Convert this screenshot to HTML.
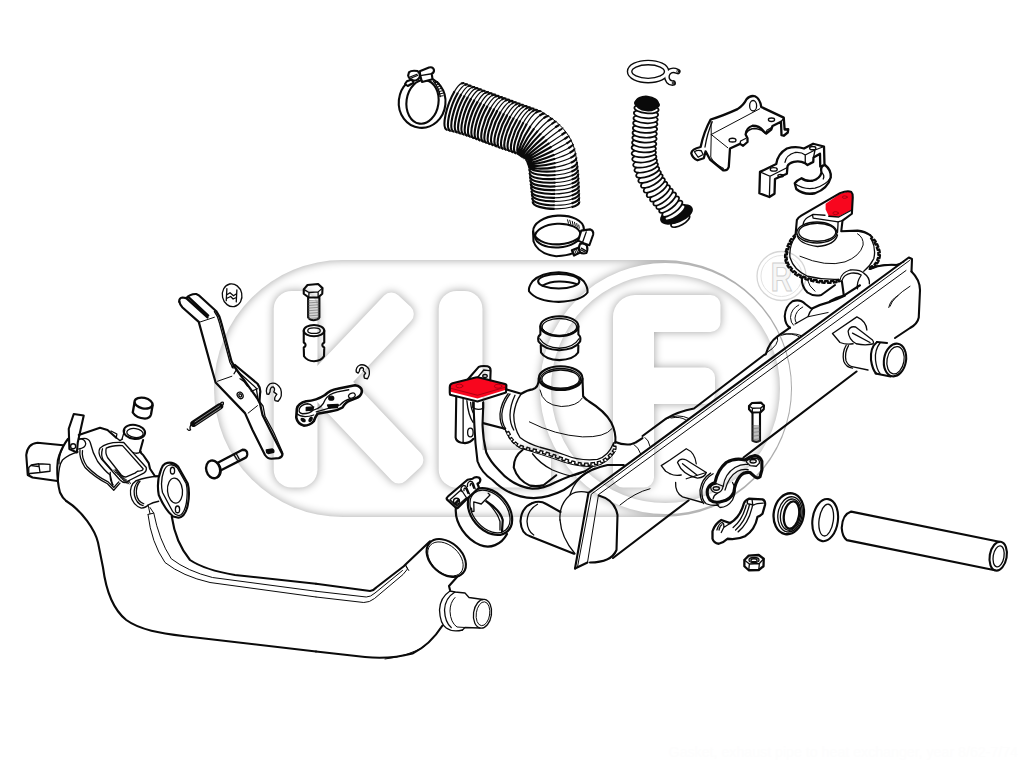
<!DOCTYPE html>
<html lang="en"><head><meta charset="utf-8"><title>Gasket, exhaust pipe to heat exchanger</title>
<style>
html,body{margin:0;padding:0;background:#fff;width:1024px;height:768px;overflow:hidden}
svg{display:block}
.k{fill:none;stroke:#0a0a0a;stroke-linecap:round;stroke-linejoin:round;vector-effect:non-scaling-stroke}
.k *{vector-effect:non-scaling-stroke}
.t{stroke-width:2.1}
.m{stroke-width:1.3}
.n{stroke-width:1}
.h{stroke-width:.65}
.w{fill:#fff}
.b{fill:#0a0a0a}
.r{fill:#f8061e}
text{font-family:"Liberation Sans",Arial,sans-serif}
</style></head><body>
<svg width="1024" height="768" viewBox="0 0 1024 768">
<rect width="1024" height="768" fill="#fff"/>
<!-- watermark -->
<defs>
 <mask id="wmm" maskUnits="userSpaceOnUse" x="180" y="230" width="660" height="320">
  <rect x="180" y="230" width="660" height="320" fill="#000"/>
  <path d="M342.5,260 H663.5 A128.5,128.5 0 0 1 663.5,517 H342.5 A128.5,128.5 0 0 1 342.5,260 Z" fill="#fff"/>
  <g fill="#000" stroke="#000" stroke-linejoin="round">
   <path d="M291.7,309.0 L291.7,469.5 L299.5,469.5 L299.5,309.0Z" stroke-width="36"/>
   <path d="M456.7,309.0 L456.7,469.5 L464.5,469.5 L464.5,309.0Z" stroke-width="36"/>
   <path d="M331.1,390.6 L403.8,314.1 L391.4,302.4 L318.7,378.9Z M321.6,392.1 L398.9,473.6 L413.4,459.9 L336.1,378.4Z M455.0,477.4 L541.0,477.4 L541.0,459.9 L455.0,459.9Z" stroke-width="20"/>
   <path d="M613,477.5 V317 A22,22 0 0 1 635,295 H710.5 A10,10 0 0 1 720.5,305 V322 A10,10 0 0 1 710.5,332 H654 V367.5 H705 A10,10 0 0 1 715,377.5 V394 A10,10 0 0 1 705,404 H654 V477.5 A10,10 0 0 1 644,487.5 H623 A10,10 0 0 1 613,477.5 Z" stroke="none"/>
   <circle cx="665.5" cy="388.5" r="120" fill="none" stroke-width="11"/>
  </g>
 </mask>
 <filter id="wmf" filterUnits="userSpaceOnUse" x="180" y="230" width="660" height="320" color-interpolation-filters="sRGB">
  <feFlood flood-color="#000" flood-opacity="1"/>
  <feComposite in2="SourceAlpha" operator="out"/>
  <feGaussianBlur stdDeviation="5"/>
  <feComponentTransfer><feFuncA type="linear" slope=".37"/></feComponentTransfer>
  <feComposite in2="SourceAlpha" operator="in"/>
 </filter>
</defs>
<g filter="url(#wmf)"><g mask="url(#wmm)"><rect x="180" y="230" width="660" height="320" fill="#fff"/></g></g>
<g fill="none" stroke="#d6d6d6">
 <circle cx="781.5" cy="276" r="24.5" stroke-width="1.3"/>
 <circle cx="781.5" cy="276" r="20.5" stroke-width="1" stroke="#e2e2e2"/>
</g>
<text transform="translate(781.5,290.5) scale(.74,1)" x="0" y="0" text-anchor="middle" font-size="40" font-weight="bold" fill="#f6f6f6" stroke="#cfcfcf" stroke-width="1.1">R</text>

<!-- left exhaust pipe : head (8x view, origin 20,405) -->
<g class="k" transform="translate(20,405) scale(.125)">
 <g class="t">
  <path d="M345,322 L140,302 Q60,310 50,400 L62,560 L100,580 L300,608"/>
  <path d="M385,270 Q345,320 315,400 Q298,440 298,500 Q296,610 320,700 Q340,745 370,768"/>
  <path d="M470,240 L640,182 L700,200 L770,262"/>
  <path d="M430,72 L510,84 L462,300 L455,380 L395,352 L390,190 Z"/>
  <ellipse cx="915" cy="215" rx="86" ry="56" transform="rotate(8 915 215)"/>
  <path d="M985,280 L960,370 Q970,390 985,400 L1030,465 L1040,510 L1080,570 L1110,570"/>
  <path d="M1160,470 Q1215,445 1265,492 L1342,628 Q1362,700 1342,802 Q1322,895 1268,902 L1225,892 Q1160,840 1110,720 Q1090,610 1130,512 Q1140,480 1160,470 Z"/>
 </g>
 <g class="m">
  <circle cx="425" cy="330" r="20"/>
  <path d="M468,272 Q520,268 526,310 Q522,345 470,352"/>
  <path d="M70,500 L90,480 L150,470 L240,475 L240,530 L160,540 L80,548 L70,560 Z M150,470 L160,540 M90,485 L150,492"/>
  <path d="M340,345 Q312,400 312,470"/>
  <path d="M465,375 Q390,395 340,440 Q310,480 306,600"/>
  <ellipse cx="920" cy="224" rx="66" ry="36" transform="rotate(8 920 224)"/>
  <path d="M838,200 L815,275 M905,380 Q940,395 968,372"/>
  <path d="M728,208 L775,232 L770,262 L800,285 L820,272"/>
  <path d="M640,345 Q700,290 830,300 L1010,500 Q1015,530 990,545 L880,600 Q840,640 800,600 L650,430 Q620,380 640,345 Z"/>
  <path d="M690,345 Q740,320 820,325 L985,510 Q985,528 940,530 L920,545 L850,575 Q830,580 810,560 L700,420 Q680,380 690,345 Z"/>
  <path d="M660,350 Q645,400 665,440 L735,522"/>
  <path d="M470,275 Q545,250 562,300 Q580,380 620,450 Q680,530 722,560 L740,640"/>
  <path d="M480,360 Q470,420 520,500 Q600,580 700,630 L750,682 L800,625"/>
  <path d="M500,365 Q490,420 535,490 Q610,570 705,615 L750,660 L790,615"/>
  <path d="M722,540 Q715,600 745,640"/>
  <path d="M930,605 Q1010,575 1105,570"/>
  <path d="M930,605 Q875,640 885,720 Q900,800 970,825 Q1010,820 1025,800 Q1060,780 1110,770"/>
  <path d="M950,605 Q905,650 915,720 Q930,790 985,805"/>
  <path d="M960,610 Q925,650 932,715 Q940,770 990,790"/>
  <path d="M1195,480 Q1230,470 1260,505 L1330,630 Q1345,690 1330,790 Q1310,880 1270,885 Q1240,880 1220,850 L1140,700 Q1120,610 1150,530 Q1165,490 1195,480 Z"/>
  <ellipse cx="1240" cy="685" rx="60" ry="100" transform="rotate(-5 1240 685)"/>
  <ellipse cx="1220" cy="525" rx="17" ry="27"/><ellipse cx="1260" cy="835" rx="17" ry="27"/>
 </g>
 <g class="n">
  <path d="M748,520 L770,548 M760,514 L784,560 M772,522 L796,572 M784,534 L808,586 M796,548 L820,598 M808,560 L832,610 M822,574 L846,622 M838,588 L858,630 M852,598 L872,632 M868,604 L884,628"/>
  <path d="M1025,800 L1040,870 M1040,820 L1070,865 L1025,875"/>
 </g>
</g>
<!-- left exhaust pipe : middle (4x view, origin 60,480) -->
<g class="k" transform="translate(60,480) scale(.25)">
 <path class="t" d="M25,84 C90,125 140,200 152,250 L172,350 C185,450 215,520 265,560 C320,600 400,612 500,625 L1024,686"/>
 <path class="t" d="M447,146 Q462,250 520,320 Q580,360 700,380 L1024,415"/>
 <path class="n" d="M352,138 Q365,250 420,330 Q490,385 600,410 L1024,468"/>
 <path class="n" d="M375,132 Q396,240 445,315 Q510,365 610,390 L1024,445"/>
</g>
<!-- left exhaust pipe : right end (4x view, origin 290,480) -->
<g class="k" transform="translate(290,480) scale(.25)">
 <path class="t" d="M104,415 L320,444 Q335,442 345,430 L455,345 L462,338 L560,245"/>
 <path class="n" d="M104,445 L305,468 Q322,468 340,452 L450,362"/>
 <path class="n" d="M104,468 L295,490 Q318,490 338,474 L452,378 L470,356 L462,340 L475,362"/>
 <ellipse class="t" cx="625" cy="312" rx="90" ry="62" transform="rotate(42 625 312)"/>
 <ellipse class="n" cx="622" cy="316" rx="82" ry="55" transform="rotate(42 622 316)"/>
 <path class="t" d="M668,388 L636,424 L640,440"/>
 <path class="t" d="M104,686 L300,708 Q400,718 490,694 Q560,660 610,582"/>
 <path class="n" d="M380,716 Q470,706 540,664 Q580,630 604,590"/>
 <path class="m" d="M640,444 Q600,470 598,520 Q600,575 625,592 Q650,610 690,600"/>
 <path class="m" d="M660,448 Q620,472 618,520 Q620,570 645,590"/>
 <path class="m" d="M640,444 L660,448 L700,452 L716,470 L772,478"/>
 <path class="m" d="M690,600 L700,590 L760,592"/>
 <path class="n" d="M660,470 Q640,490 640,525 Q642,570 668,588 L700,590"/>
 <ellipse class="m" cx="770" cy="535" rx="36" ry="58" transform="rotate(8 770 535)"/>
 <ellipse class="n" cx="772" cy="535" rx="27" ry="48" transform="rotate(8 772 535)"/>
</g>

<!-- centre elbow with red gasket (8x view, origin 440,355) -->
<g class="k" transform="translate(440,355) scale(.125)">
 <path class="r" stroke="none" d="M80,240 Q80,232 100,226 L285,180 Q300,177 320,182 L520,232 Q532,236 530,250 L528,277 L300,347 L85,294 Q75,285 78,260 Z"/>
 <path d="M85,266 L300,322 L528,256" style="stroke:#9a0010;stroke-width:.8"/>
 <ellipse cx="155" cy="248" rx="28" ry="15" style="stroke:#9a0010;stroke-width:.8"/>
 <ellipse cx="465" cy="250" rx="30" ry="16" style="stroke:#9a0010;stroke-width:.8"/>
 <g class="t">
  <path d="M78,300 L78,258 Q78,232 100,226 L285,180 Q300,176 320,182 L520,232 Q534,236 531,252 L528,300 L300,372 L80,318 Z"/>
  <path d="M225,192 L310,95 Q330,85 380,90 Q405,95 405,125 L402,202"/>
  <path d="M130,335 L125,660 Q130,690 165,700 L200,705 Q245,700 268,670"/>
  <path d="M270,380 L270,440 L275,560 Q280,700 300,850 Q330,940 420,1000 Q560,1140 750,1145 Q880,1138 990,1080 Q1070,1030 1120,980 Q1200,910 1340,880 L1470,880"/>
  <path d="M345,380 L345,430 L340,560 Q345,680 370,780 Q400,850 470,920 Q580,1050 740,1070 Q830,1070 920,1020 Q1050,960 1160,930 L1220,890"/>
  <path d="M345,545 L520,590"/>
  <path d="M530,275 L650,310 Q700,280 740,275 Q790,262 790,190"/>
  <ellipse cx="965" cy="185" rx="175" ry="95"/>
  <path d="M1140,190 L1145,330 Q1160,350 1190,370 Q1320,450 1370,540 Q1410,620 1403,700"/>
  <path d="M660,760 Q590,810 590,900 Q620,1000 720,1045 Q780,1055 830,1040 L930,962"/>
  <path d="M1403,696 Q1460,722 1525,715 L1565,700 L1620,665"/>
 </g>
 <g class="m">
  <path d="M300,180 L350,120 L395,125"/>
  <ellipse cx="360" cy="168" rx="18" ry="12"/>
  <path d="M185,350 L185,695"/>
  <path d="M215,365 Q225,480 265,540"/>
  <path d="M245,380 Q250,440 270,470"/>
  <ellipse cx="243" cy="620" rx="22" ry="35"/>
  <path d="M262,375 L262,420 Q300,448 348,425 L348,375"/>
  <ellipse cx="965" cy="190" rx="160" ry="82"/>
  <ellipse cx="965" cy="193" rx="150" ry="73"/>
  <path d="M650,310 Q600,380 590,480 Q590,580 640,660 Q700,708 800,738 Q900,762 1000,800 Q1120,850 1260,835 Q1345,810 1385,712"/>
  <path d="M545,310 Q490,380 480,470 Q478,550 512,592"/>
  <path d="M560,312 Q505,385 495,470 Q493,545 525,590"/>
  <path d="M600,322 Q562,400 560,480 Q560,550 590,600"/>
  <path d="M740,790 Q800,870 900,920 Q1000,960 1050,968 Q1110,960 1160,930"/>
  <path d="M520,595 L521,597 L523,600 L525,603 L527,607 L529,611 L531,615 L534,619 L549,611 L552,615 L554,619 L557,624 L559,628 L561,632 L563,636 L547,644 L548,647 L550,651 L551,654 L552,658 L554,661 L555,665 L557,669 L573,660 L575,663 L576,665 L579,669 L581,671 L583,673 L585,676 L588,679 L574,691 L577,694 L580,697 L583,700 L586,703 L589,706 L592,709 L604,696 L607,698 L610,701 L613,703 L616,706 L620,708 L623,710 L613,725 L616,728 L620,730 L623,732 L627,734 L630,735 L633,737 L637,738 L644,722 L647,723 L650,724 L654,725 L657,727 L661,728 L665,729 L668,730 L663,747 L667,749 L671,750 L675,751 L679,752 L683,753 L687,754 L691,756 L696,738 L701,739 L705,741 L708,742 L712,743 L716,744 L719,745 L715,762 L719,763 L723,764 L727,765 L731,766 L735,767 L739,768 L743,769 L747,751 L751,752 L755,753 L759,754 L763,755 L767,756 L771,756 L767,774 L771,775 L776,776 L780,777 L784,778 L788,779 L792,780 L796,781 L801,764 L805,765 L809,766 L812,767 L816,768 L820,769 L824,770 L819,787 L823,788 L826,789 L830,790 L834,791 L838,793 L841,794 L845,795 L850,777 L854,779 L858,780 L862,781 L865,782 L869,783 L873,784 L877,786 L872,803 L876,804 L880,805 L884,807 L888,808 L892,809 L896,811 L900,812 L906,795 L909,796 L913,797 L917,799 L921,800 L925,801 L928,803 L922,820 L926,821 L930,823 L934,824 L938,826 L942,827 L946,829 L950,830 L956,813 L960,815 L964,816 L968,818 L972,819 L976,821 L980,822 L974,839 L978,841 L982,842 L986,843 L990,845 L994,846 L998,848 L1004,831 L1007,832 L1011,833 L1015,834 L1018,836 L1022,837 L1025,838 L1030,839 L1024,856 L1029,858 L1033,859 L1037,860 L1041,862 L1045,863 L1049,864 L1055,847 L1059,848 L1062,849 L1066,850 L1070,851 L1074,852 L1078,853 L1081,854 L1077,872 L1081,873 L1085,874 L1089,874 L1093,875 L1096,876 L1100,877 L1104,878 L1107,860 L1111,861 L1115,861 L1118,862 L1122,862 L1126,863 L1130,863 L1128,881 L1132,881 L1136,882 L1140,882 L1144,882 L1149,882 L1153,883 L1157,883 L1157,865 L1161,865 L1165,865 L1169,865 L1173,865 L1177,865 L1181,865 L1185,865 L1185,883 L1189,882 L1193,882 L1197,882 L1201,882 L1205,881 L1209,881 L1207,863 L1211,863 L1215,862 L1218,862 L1222,862 L1227,861 L1231,861 L1235,860 L1238,878 L1242,877 L1246,876 L1250,875 L1254,875 L1258,874 L1262,873 L1258,855 L1262,854 L1266,853 L1269,852 L1273,851 L1276,850 L1279,849 L1283,848 L1289,865 L1293,863 L1296,862 L1300,860 L1304,858 L1308,856 L1311,854 L1315,852 L1305,837 L1309,835 L1312,832 L1315,830 L1318,828 L1321,826 L1324,823 L1335,837 L1339,834 L1342,832 L1345,829 L1348,826 L1351,823 L1354,821 L1357,818 L1345,805 L1348,802 L1351,799 L1354,796 L1357,793 L1360,790 L1363,787 L1376,800 L1379,797 L1382,793 L1385,790 L1388,787 L1390,784 L1393,780 L1379,769 L1381,766 L1383,764 L1385,761 L1386,758 L1387,756 L1388,754 L1389,751 L1406,756 L1407,752 L1408,747 L1408,743 L1408,738 L1408,733 L1408,729 L1390,730 L1390,726 L1389,722 L1389,718 L1388,714 L1388,710 L1387,707 L1387,704 L1405,702 L1405,700"/>
 </g>
 <g class="n">
  <path d="M800,280 Q820,400 970,412 Q1100,410 1138,345"/>
  <path d="M715,535 Q920,640 1140,655 Q1320,660 1375,590"/>
  <path d="M520,595 Q550,690 640,745 Q800,790 1000,860 Q1130,900 1240,890 Q1340,870 1403,770"/>
  <path d="M1550,715 Q1590,740 1605,790 M1640,660 Q1670,680 1680,730"/>
 </g>
</g>

<!-- muffler : flange plate (target coords) -->
<g class="k">
 <path class="t" d="M575,568.5 L588.5,492.8 L908.8,257.5 L912,259 L911.5,271.5"/>
 <path class="n" d="M577.5,567 L591.3,494.2 L909.5,260.5"/>
 <path class="n" d="M587.5,562.5 L598.5,494.6 L906,270.5"/>
 <path class="t" d="M575,568.5 L587.5,562.5"/>
</g>
<!-- muffler : lower-left part (4x view, origin 500,390) -->
<g class="k" transform="translate(500,390) scale(.25)">
 <g class="t">
  <path d="M395,422 Q460,440 470,500 L466,640 Q445,690 360,690"/>
  <path d="M130,452 Q85,470 82,525 Q85,575 120,585 L296,655"/>
  <path d="M130,452 Q160,440 185,456 L242,488"/>
 </g>
 <g class="m">
  <path d="M240,520 Q235,460 280,420 Q310,400 352,410"/>
  <path d="M240,520 Q245,590 300,655"/>
  <path d="M150,457 Q110,480 108,525 Q110,565 135,580"/>
  <path d="M280,420 Q300,350 380,312"/>
 </g>
 <g class="n">
  <path d="M480,460 Q540,410 600,395"/>
 </g>
</g>
<!-- muffler : rear top edge (target coords) -->
<g class="k">
 <path class="t" d="M613,558 L688.5,500.5 M743.5,457.5 L856.5,371.5"/>
 <path class="t" d="M642.5,436 L666,418.6 Q678,411.5 694,408.5 L764,355 L765.8,354.2 Q769,342.5 777.5,336.3 L790,327.6"/>
 <path class="n" d="M666,419 Q678,413 689,418.5 M671,418 Q680,416 686,420"/>
</g>
<!-- muffler : right end + upper pipe (8x view, origin 740,290) -->
<g class="k" transform="translate(740,290) scale(.125)">
 <g class="t">
  <path d="M400,302 Q362,280 358,210 Q362,130 420,90 Q480,68 522,112 L572,150 Q650,112 720,95 Q790,70 840,45"/>
 </g>
 <g class="m">
  <path d="M440,272 L545,212 Q556,172 580,150"/>
  <path d="M740,348 L935,215 Q1010,250 1015,320"/>
  <path d="M740,348 L800,420 Q850,440 905,430"/>
  <path d="M865,330 Q880,285 925,296 L1060,400 Q1076,424 1060,432 Q1000,446 930,430 Q870,400 865,330 Z M900,345 L1040,420"/>
  <path d="M850,440 Q815,500 830,570 Q850,620 900,625"/>
  <path d="M868,445 Q835,500 848,565 Q865,610 905,615 L1024,640"/>
 </g>
 <g class="n">
  <path d="M470,120 Q408,150 404,220 Q406,262 428,282"/>
  <path d="M502,136 Q446,165 440,225 Q440,250 452,264"/>
  <path d="M545,214 L705,180"/>
  <path d="M330,362 Q420,335 490,365 M345,352 Q420,345 470,372"/>
  <path d="M300,372 Q318,440 215,500"/>
 </g>
</g>
<!-- muffler : right end (4x view, origin 720,230) -->
<g class="k" transform="translate(720,230) scale(.25)">
 <g class="t">
  <path d="M766,166 Q800,200 800,240 L795,350 Q790,376 760,392 L700,432"/>
  <path d="M628,448 Q600,470 604,520 Q610,560 625,574"/>
  <path d="M628,448 L668,452"/>
  <path d="M622,574 L682,586"/>
  <ellipse cx="700" cy="520" rx="44" ry="66" transform="rotate(10 700 520)"/>
 </g>
 <g class="m">
  <path d="M596,156 Q650,134 700,140 L735,128"/>
  <ellipse cx="702" cy="521" rx="34" ry="55" transform="rotate(10 702 521)"/>
  <path d="M640,452 Q618,480 622,520 Q626,556 640,574"/>
 </g>
 <g class="n">
  <path d="M680,305 Q690,270 760,225"/>
 </g>
</g>

<!-- upper heat-exchanger outlet with red gasket (8x view, origin 770,180) -->
<g class="k" transform="translate(770,180) scale(.125)">
 <path class="r" stroke="none" d="M445,190 L560,110 L625,92 Q655,93 658,125 L655,237 L550,292 L470,287 L445,235 Z"/>
 <ellipse cx="598" cy="137" rx="20" ry="10" style="stroke:#9a0010;stroke-width:.8"/>
 <ellipse cx="525" cy="265" rx="22" ry="12" style="stroke:#9a0010;stroke-width:.8"/>
 <g class="t">
  <path d="M205,430 L215,320 Q225,300 250,285 L560,105 Q620,80 650,95 Q665,110 662,140 L655,270 L580,325 L570,410 L700,405 Q760,412 800,440"/>
  <path d="M205,435 L203,437 L201,438 L199,440 L196,443 L193,445 L190,448 L186,451 L196,461 L193,464 L190,467 L187,471 L184,474 L182,478 L170,470 L168,473 L166,476 L164,479 L162,482 L160,486 L158,490 L171,496 L169,500 L167,504 L165,507 L163,511 L161,515 L148,509 L146,513 L145,517 L143,521 L141,525 L139,529 L152,534 L151,538 L149,541 L148,545 L147,549 L146,553 L144,557 L131,553 L130,557 L128,561 L127,566 L126,570 L125,574 L139,577 L138,581 L137,585 L137,589 L136,593 L135,597 L122,595 L121,599 L121,603 L120,606 L120,610 L120,615 L120,620 L134,619 L134,623 L134,627 L135,631 L135,634 L136,638 L123,641 L123,645 L124,649 L126,652 L127,656 L128,660 L129,664 L143,659 L144,663 L145,666 L146,669 L147,672 L149,674 L151,677 L139,684 L141,688 L143,692 L147,696 L150,700 L152,702 L163,694 L165,696 L167,699 L169,702 L172,704 L174,707 L177,710 L166,719 L169,723 L172,726 L175,729 L178,732 L181,735 L184,738 L194,728 L197,731 L200,734 L203,737 L206,739 L209,742 L200,753 L203,755 L207,758 L210,760 L213,762 L217,764 L220,766 L227,754 L230,756 L234,758 L237,760 L240,761 L244,763 L247,764 L241,777 L245,779 L249,780 L253,782 L256,784 L260,785 L265,772 L269,773 L273,775 L277,776 L281,777 L285,779 L281,792 L286,794 L290,795 L293,796 L297,797 L301,798 L304,799 L308,786 L312,787 L316,788 L319,789 L323,790 L327,791 L331,792 L327,806 L332,807 L336,808 L340,809 L344,810 L348,811 L351,797 L355,798 L359,799 L363,799 L367,800 L371,801 L375,802 L372,816 L377,816 L381,817 L385,818 L388,818 L392,819 L396,819 L398,806 L402,806 L406,807 L410,807 L414,807 L418,808 L417,822 L421,822 L426,822 L430,823 L434,823 L438,823 L439,809 L443,809 L447,809 L451,809 L455,809 L459,809 L463,809 L463,823 L467,823 L471,823 L475,823 L479,823 L483,823 L486,823 L486,809 L489,809 L493,808 L496,808 L499,808 L504,808 L509,807 L510,821 L516,820 L520,819 L525,819 L530,818 L534,817 L531,803 L535,802 L539,801 L542,800 L546,799 L549,798 L552,812 L555,811 L558,810 L560,810"/>
  <path d="M800,440 L802,442 L804,444 L806,446 L809,449 L811,452 L814,455 L818,458 L808,468 L811,471 L814,474 L817,478 L820,481 L823,485 L834,476 L837,479 L840,483 L843,487 L845,490 L847,493 L835,501 L837,504 L839,508 L841,511 L843,515 L845,518 L857,512 L859,516 L861,520 L862,524 L864,528 L866,532 L867,535 L854,540 L855,544 L856,547 L858,551 L859,554 L860,559 L873,555 L875,559 L876,563 L877,567 L878,572 L878,576 L879,580 L865,582 L866,585 L866,589 L866,592 L866,596 L866,599 L880,600 L880,604 L879,608 L879,613 L878,617 L877,621 L876,626 L863,622 L862,626 L861,630 L859,634 L858,637 L857,641 L870,646 L868,650 L866,654 L864,657 L862,661 L860,665 L858,668 L846,661 L844,664 L842,667 L840,670 L838,672 L835,675 L846,684 L843,687 L840,690 L837,693 L833,695 L829,698 L825,700 L818,688 L814,690 L810,692 L806,694 L803,695 L799,697 L805,710 L802,711 L800,712"/>
  <path d="M255,785 Q250,850 300,900 Q350,935 410,920 L520,840"/>
  <path d="M575,810 L590,920"/>
  <path d="M480,970 Q530,940 590,925 L720,842"/>
  <path d="M800,712 L860,690 Q940,672 1024,680"/>
 </g>
 <g class="m">
  <path d="M265,355 Q270,320 300,300 L345,275 L440,282"/>
  <path d="M340,280 L345,305 L545,335 L578,325"/>
  <path d="M545,335 L540,420"/>
  <path d="M470,290 L550,296 L655,240"/>
  <ellipse cx="375" cy="420" rx="160" ry="84"/>
  <ellipse cx="378" cy="418" rx="148" ry="72"/>
  <path d="M218,440 Q225,510 380,532 Q520,520 540,440"/>
  <path d="M205,450 Q150,530 160,620 Q190,720 300,770 Q420,800 550,795"/>
  <path d="M810,470 Q850,550 830,630 Q800,690 750,730"/>
  <path d="M560,800 Q570,740 640,720 Q720,715 750,745 Q800,780 795,830"/>
  <path d="M575,805 Q590,755 650,745 Q700,740 730,760 Q690,820 700,870"/>
 </g>
 <g class="n">
  <path d="M700,430 Q750,460 745,520 Q720,610 600,655 Q450,700 240,610"/>
  <path d="M300,800 Q310,850 360,890"/>
  <path d="M950,1020 Q960,960 1024,925"/>
 </g>
</g>

<!-- large corrugated hose -->
<g class="k" style="stroke-linecap:butt">
<path style="stroke-width:2.15" d="M464.1,83.2 C463.2,82.9 462.2,83.1 461.1,83.6 M454.6,91.2 C447.0,104.1 440.7,127.8 447.2,130.1 M467.7,84.6 C466.7,84.2 465.7,84.4 464.6,85.0 M457.9,92.7 C450.4,105.4 444.2,128.6 450.7,131.0 M471.2,85.9 C470.2,85.5 469.1,85.7 468.0,86.3 M461.3,94.1 C453.8,106.8 447.6,129.4 454.0,131.8 M474.8,87.1 C473.7,86.8 472.6,87.0 471.4,87.7 M464.7,95.5 C457.2,108.1 451.1,130.3 457.5,132.8 M478.1,88.4 C477.1,88.0 475.9,88.2 474.7,88.9 M467.9,97.0 C460.5,109.5 454.5,131.3 460.8,133.8 M481.6,89.7 C480.5,89.2 479.3,89.5 478.1,90.3 M471.2,98.4 C463.8,110.9 457.8,132.4 464.1,134.8 M485.1,90.9 C484.0,90.5 482.7,90.8 481.4,91.6 M474.5,99.9 C467.1,112.4 461.1,133.5 467.4,135.9 M488.7,92.3 C487.6,91.8 486.3,92.1 484.9,93.0 M477.8,101.4 C470.4,113.9 464.4,134.6 470.6,137.1 M492.1,93.5 C490.9,93.0 489.6,93.3 488.2,94.3 M481.0,102.9 C473.7,115.4 467.8,135.8 474.0,138.3 M495.7,94.8 C494.4,94.3 493.1,94.6 491.6,95.6 M484.4,104.4 C477.0,116.9 471.1,137.0 477.2,139.5 M499.1,96.1 C497.9,95.6 496.5,95.9 495.0,96.9 M487.6,105.9 C480.2,118.3 474.3,138.1 480.3,140.7 M502.6,97.4 C501.4,96.8 499.9,97.2 498.4,98.3 M490.9,107.4 C483.6,119.9 477.8,139.4 483.7,142.0 M506.1,98.7 C504.8,98.1 503.3,98.5 501.7,99.6 M494.2,108.9 C486.8,121.3 480.9,140.6 486.8,143.1 M509.6,99.9 C508.3,99.3 506.7,99.8 505.1,101.0 M497.4,110.4 C490.1,122.8 484.2,141.8 490.1,144.3 M513.1,101.2 C511.8,100.6 510.2,101.1 508.5,102.3 M500.7,111.9 C493.4,124.2 487.6,142.9 493.4,145.5 M516.5,102.5 C515.1,101.9 513.5,102.3 511.8,103.7 M504.0,113.4 C496.7,125.7 491.0,144.2 496.8,146.7 M520.1,103.8 C518.7,103.1 517.0,103.6 515.2,105.0 M507.3,114.9 C500.0,127.2 494.3,145.3 500.0,147.9 M523.5,105.0 C522.1,104.4 520.4,104.9 518.5,106.3 M510.5,116.4 C503.3,128.6 497.7,146.4 503.3,149.0 M527.1,106.3 C525.6,105.6 523.9,106.2 522.0,107.7 M513.8,117.8 C506.6,130.0 501.0,147.5 506.5,150.1 M530.6,107.6 C529.1,106.9 527.3,107.5 525.3,109.0 M517.1,119.3 C509.9,131.4 504.3,148.6 509.8,151.3 M534.0,108.8 C532.5,108.1 530.6,108.8 528.6,110.4 M520.3,120.8 C513.1,132.9 507.7,149.8 513.1,152.5 M537.5,110.1 C536.0,109.3 534.0,110.0 532.0,111.7 M523.5,122.3 C516.3,134.3 510.8,151.0 516.2,153.6 M541.0,111.4 C539.4,110.6 537.4,111.3 535.3,113.0 M526.8,123.8 C519.6,135.8 514.1,152.2 519.4,154.9 M545.0,113.9 C543.6,113.2 541.8,113.9 539.6,115.6 M530.6,126.1 C522.8,137.5 516.1,153.1 520.4,155.7 M548.8,116.4 C547.7,115.7 545.9,116.4 543.7,118.1 M534.2,128.4 C525.8,139.3 517.9,154.0 521.3,156.4 M552.7,119.1 C551.9,118.5 550.2,119.2 547.9,121.0 M537.8,130.9 C528.7,141.2 519.5,154.8 522.0,156.9 M556.3,121.9 C555.7,121.4 554.0,122.2 551.7,124.0 M541.0,133.5 C531.3,143.3 521.0,155.7 522.8,157.4 M559.7,125.1 C559.4,124.7 557.7,125.6 555.3,127.4 M544.1,136.6 C533.9,145.6 522.7,156.9 523.8,158.1 M562.9,128.4 C562.7,128.2 561.1,129.2 558.6,131.0 M546.9,139.8 C536.1,148.1 524.1,158.1 524.6,158.7 M565.9,132.0 C565.9,132.0 564.2,133.1 561.6,134.9 M549.3,143.2 C538.1,150.8 525.3,159.4 525.3,159.4 M568.6,135.8 C568.7,136.1 567.0,137.3 564.3,139.1 M551.4,146.8 C539.7,153.6 526.4,160.8 526.0,160.1 M570.9,139.9 C571.1,140.5 569.4,141.8 566.5,143.6 M553.1,150.8 C541.1,156.7 527.3,162.5 526.7,161.1 M572.8,144.2 C573.1,145.0 571.3,146.5 568.3,148.2 M554.3,154.8 C542.1,159.9 528.0,164.3 527.2,162.1 M574.3,148.5 C574.6,149.6 572.8,151.2 569.6,152.9 M555.1,158.8 C542.6,163.0 528.5,165.8 527.6,162.9 M575.4,153.1 C575.7,154.6 573.7,156.3 570.4,157.9 M555.5,163.0 C542.9,166.2 528.8,167.6 528.0,163.9 M576.2,157.5 C576.5,159.3 574.4,161.2 570.9,162.8 M555.6,167.1 C543.0,169.4 529.1,169.4 528.4,164.9 M577.0,162.0 C577.2,164.2 574.9,166.2 571.2,167.7 M555.5,171.2 C542.8,172.5 529.2,171.0 528.8,165.8 M577.5,165.9 C577.6,168.2 575.2,170.2 571.4,171.7 M555.5,175.0 C542.9,176.1 529.5,174.6 529.2,169.3 M577.9,170.0 C578.1,172.3 575.6,174.3 571.6,175.8 M555.5,178.9 C543.0,179.9 529.8,178.2 529.5,173.0 M578.3,173.9 C578.4,176.2 575.8,178.2 571.8,179.6 M555.4,182.6 C543.0,183.4 530.1,181.6 529.9,176.5 M578.5,177.8 C578.7,180.2 576.0,182.1 571.8,183.6 M555.4,186.4 C543.1,187.1 530.5,185.2 530.2,180.1 M578.7,181.7 C578.8,184.1 576.1,186.0 571.8,187.5 M555.2,190.1 C543.1,190.6 530.8,188.6 530.6,183.6 M578.9,185.7 C579.0,188.2 576.1,190.1 571.8,191.5 M555.1,193.9 C543.1,194.3 531.1,192.2 531.0,187.2 M579.0,189.7 C579.1,192.2 576.2,194.1 571.8,195.5 M555.0,197.8 C543.2,198.0 531.5,195.8 531.4,190.9 M579.2,193.6 C579.2,196.1 576.2,198.0 571.7,199.3 M554.8,201.4 C543.2,201.5 531.8,199.2 531.8,194.3 M579.3,197.6 C579.3,200.1 576.2,202.1 571.6,203.4 M554.7,205.3 C543.3,205.2 532.2,202.8 532.2,198.0 M579.4,201.4 C579.4,204.0 576.3,205.9 571.6,207.1 M554.6,208.9 C543.4,208.7 532.6,206.2 532.6,201.4"/>
<path style="stroke-width:1.2" d="M461.7,83.4 C459.2,84.3 456.5,87.8 453.9,92.4 M465.2,84.7 C462.7,85.7 459.9,89.2 457.3,93.8 M468.6,86.0 C466.1,87.1 463.3,90.6 460.7,95.2 M472.1,87.3 C469.5,88.5 466.6,92.0 464.0,96.7 M475.3,88.6 C472.7,89.8 469.9,93.4 467.2,98.1 M478.7,89.9 C476.1,91.2 473.2,94.8 470.5,99.6 M482.1,91.2 C479.4,92.5 476.5,96.2 473.8,101.0 M485.6,92.6 C482.9,93.9 479.9,97.7 477.2,102.5 M488.8,93.9 C486.1,95.3 483.1,99.2 480.4,104.0 M492.3,95.2 C489.6,96.7 486.5,100.6 483.7,105.6 M495.6,96.5 C492.9,98.1 489.8,102.0 486.9,107.0 M499.0,97.9 C496.2,99.5 493.1,103.5 490.3,108.6 M502.4,99.2 C499.6,100.9 496.4,105.0 493.5,110.1 M505.7,100.5 C502.9,102.2 499.7,106.4 496.7,111.6 M509.2,101.9 C506.3,103.6 503.0,107.9 500.0,113.1 M512.5,103.2 C509.5,105.0 506.2,109.4 503.3,114.6 M515.9,104.5 C512.9,106.4 509.6,110.8 506.6,116.1 M519.2,105.8 C516.2,107.8 512.8,112.3 509.8,117.6 M522.7,107.2 C519.6,109.2 516.2,113.7 513.1,119.0 M526.0,108.5 C522.9,110.6 519.5,115.1 516.4,120.5 M529.3,109.8 C526.2,112.0 522.7,116.6 519.6,122.0 M532.7,111.1 C529.5,113.3 526.0,118.0 522.8,123.5 M536.0,112.5 C532.8,114.7 529.2,119.5 526.1,125.0 M540.3,115.1 C537.2,117.3 533.4,121.9 529.8,127.2 M544.4,117.6 C541.3,119.8 537.3,124.3 533.4,129.5 M548.6,120.4 C545.5,122.7 541.1,127.0 536.9,132.0 M552.4,123.4 C549.2,125.7 544.6,129.8 540.0,134.6 M556.0,126.9 C552.8,129.1 548.0,133.1 543.1,137.5 M559.3,130.5 C556.1,132.7 551.0,136.5 545.7,140.7 M562.4,134.4 C559.0,136.6 553.7,140.2 548.1,144.0 M565.1,138.6 C561.6,140.8 556.0,144.2 550.1,147.6 M567.3,143.1 C563.8,145.3 557.9,148.4 551.8,151.4 M569.1,147.7 C565.4,150.0 559.4,152.8 553.0,155.4 M570.4,152.5 C566.6,154.7 560.3,157.2 553.7,159.3 M571.3,157.5 C567.3,159.7 560.8,161.8 554.1,163.4 M571.8,162.3 C567.6,164.5 561.0,166.3 554.2,167.4 M572.1,167.3 C567.7,169.3 561.0,170.7 554.1,171.3 M572.4,171.3 C567.9,173.3 561.0,174.6 554.1,175.1 M572.6,175.4 C568.0,177.3 561.1,178.6 554.1,179.0 M572.8,179.2 C568.1,181.1 561.0,182.3 554.0,182.7 M572.9,183.2 C568.1,185.1 561.0,186.2 553.9,186.5 M572.8,187.1 C568.0,188.9 560.9,190.0 553.8,190.2 M572.8,191.1 C567.9,192.9 560.7,193.9 553.7,194.0 M572.8,195.1 C567.8,196.9 560.6,197.8 553.6,197.8 M572.7,199.0 C567.7,200.7 560.5,201.5 553.4,201.4 M572.7,203.0 C567.6,204.7 560.3,205.4 553.3,205.2 M572.6,206.8 C567.5,208.4 560.2,209.1 553.2,208.8"/>
<path class="n" d="M464.1,83.2 L467.7,84.6 L471.2,85.9 L474.8,87.1 L478.1,88.4 L481.6,89.7 L485.1,90.9 L488.7,92.3 L492.1,93.5 L495.7,94.8 L499.1,96.1 L502.6,97.4 L506.1,98.7 L509.6,99.9 L513.1,101.2 L516.5,102.5 L520.1,103.8 L523.5,105.0 L527.1,106.3 L530.6,107.6 L534.0,108.8 L537.5,110.1 L541.0,111.4 L545.0,113.9 L548.8,116.4 L552.7,119.1 L556.3,121.9 L559.7,125.1 L562.9,128.4 L565.9,132.0 L568.6,135.8 L570.9,139.9 L572.8,144.2 L574.3,148.5 L575.4,153.1 L576.2,157.5 L577.0,162.0 L577.5,165.9 L577.9,170.0 L578.3,173.9 L578.5,177.8 L578.7,181.7 L578.9,185.7 L579.0,189.7 L579.2,193.6 L579.3,197.6 L579.4,201.4"/>
<path class="n" d="M447.2,130.1 L450.7,131.0 L454.0,131.8 L457.5,132.8 L460.8,133.8 L464.1,134.8 L467.4,135.9 L470.6,137.1 L474.0,138.3 L477.2,139.5 L480.3,140.7 L483.7,142.0 L486.8,143.1 L490.1,144.3 L493.4,145.5 L496.8,146.7 L500.0,147.9 L503.3,149.0 L506.5,150.1 L509.8,151.3 L513.1,152.5 L516.2,153.6 L519.4,154.9 L520.4,155.7 L521.3,156.4 L522.0,156.9 L522.8,157.4 L523.8,158.1 L524.6,158.7 L525.3,159.4 L526.0,160.1 L526.7,161.1 L527.2,162.1 L527.6,162.9 L528.0,163.9 L528.4,164.9 L528.8,165.8 L529.2,169.3 L529.5,173.0 L529.9,176.5 L530.2,180.1 L530.6,183.6 L531.0,187.2 L531.4,190.9 L531.8,194.3 L532.2,198.0 L532.6,201.4"/>
</g>

<!-- small corrugated hose -->
<g style="stroke:#0a0a0a;stroke-width:1.7;fill:#fff">
<ellipse cx="680.3" cy="220.8" rx="10.5" ry="4.3" transform="rotate(-30 680.3 220.8)"/>
<ellipse cx="677.8" cy="216.6" rx="10.5" ry="4.3" transform="rotate(-32 677.8 216.6)"/>
<ellipse cx="676.5" cy="214.5" rx="16.5" ry="7.5" transform="rotate(-22 676.5 214.5)" style="fill:#0a0a0a"/>
<ellipse cx="675.0" cy="212.4" rx="12.2" ry="4.3" transform="rotate(-35 675.0 212.4)"/>
<ellipse cx="672.3" cy="208.7" rx="12.2" ry="4.3" transform="rotate(-37 672.3 208.7)"/>
<ellipse cx="669.1" cy="204.6" rx="12.2" ry="4.3" transform="rotate(-38 669.1 204.6)"/>
<ellipse cx="666.2" cy="200.8" rx="12.2" ry="4.3" transform="rotate(-39 666.2 200.8)"/>
<ellipse cx="663.1" cy="197.1" rx="12.2" ry="4.3" transform="rotate(-40 663.1 197.1)"/>
<ellipse cx="660.0" cy="193.4" rx="12.2" ry="4.3" transform="rotate(-38 660.0 193.4)"/>
<ellipse cx="657.0" cy="189.4" rx="12.2" ry="4.3" transform="rotate(-35 657.0 189.4)"/>
<ellipse cx="654.3" cy="185.3" rx="12.2" ry="4.3" transform="rotate(-32 654.3 185.3)"/>
<ellipse cx="651.8" cy="180.9" rx="12.2" ry="4.3" transform="rotate(-29 651.8 180.9)"/>
<ellipse cx="649.6" cy="176.6" rx="12.2" ry="4.3" transform="rotate(-24 649.6 176.6)"/>
<ellipse cx="647.7" cy="172.1" rx="12.2" ry="4.3" transform="rotate(-20 647.7 172.1)"/>
<ellipse cx="646.2" cy="167.4" rx="12.2" ry="4.3" transform="rotate(-16 646.2 167.4)"/>
<ellipse cx="645.1" cy="162.8" rx="12.2" ry="4.3" transform="rotate(-12 645.1 162.8)"/>
<ellipse cx="644.3" cy="158.0" rx="12.2" ry="4.3" transform="rotate(-7 644.3 158.0)"/>
<ellipse cx="643.8" cy="153.0" rx="12.2" ry="4.3" transform="rotate(-3 643.8 153.0)"/>
<ellipse cx="643.8" cy="148.1" rx="12.2" ry="4.3" transform="rotate(3 643.8 148.1)"/>
<ellipse cx="644.2" cy="143.3" rx="12.2" ry="4.3" transform="rotate(4 644.2 143.3)"/>
<ellipse cx="644.5" cy="138.3" rx="12.2" ry="4.3" transform="rotate(3 644.5 138.3)"/>
<ellipse cx="644.7" cy="133.4" rx="12.2" ry="4.3" transform="rotate(3 644.7 133.4)"/>
<ellipse cx="645.0" cy="128.6" rx="12.2" ry="4.3" transform="rotate(3 645.0 128.6)"/>
<ellipse cx="645.3" cy="123.6" rx="12.2" ry="4.3" transform="rotate(3 645.3 123.6)"/>
<ellipse cx="645.6" cy="118.9" rx="12.2" ry="4.3" transform="rotate(4 645.6 118.9)"/>
<ellipse cx="646.0" cy="113.9" rx="12.2" ry="4.3" transform="rotate(5 646.0 113.9)"/>
<ellipse cx="646.5" cy="108.9" rx="12.2" ry="4.3" transform="rotate(6 646.5 108.9)"/>
<ellipse cx="647.0" cy="104.0" rx="12.2" ry="4.3" transform="rotate(6 647.0 104.0)"/>
<ellipse cx="647" cy="103.5" rx="11.3" ry="7" transform="rotate(5 647 103.5)" style="fill:#0a0a0a"/>
</g>

<!-- spring clip ring (8x view, origin 600,50) -->
<g transform="translate(600,50) scale(.125)" style="fill:none;stroke-linecap:round;stroke-linejoin:round">
 <g style="stroke:#0a0a0a;stroke-width:46">
  <ellipse cx="385" cy="172" rx="148" ry="72"/>
  <path d="M622,172 Q575,150 548,180 Q522,215 548,250 Q562,266 585,264"/>
 </g>
 <g style="stroke:#fff;stroke-width:24">
  <ellipse cx="385" cy="172" rx="148" ry="72"/>
  <path d="M620,172 Q575,150 548,180 Q522,215 548,250 Q562,266 583,264"/>
 </g>
 <g style="stroke:#0a0a0a;stroke-width:7">
  <ellipse cx="622" cy="172" rx="7" ry="12"/><ellipse cx="585" cy="264" rx="7" ry="12"/>
 </g>
</g>

<!-- hose clamp top-left (8x view, origin 380,50) -->
<g class="k" transform="translate(380,50) scale(.125)">
 <g class="t">
  <ellipse cx="337" cy="418" rx="187" ry="205" transform="rotate(6 337 418)"/>
  <ellipse cx="340" cy="415" rx="128" ry="176" transform="rotate(8 340 415)"/>
  <path class="w" d="M318,170 L392,140 Q425,132 432,160 Q434,180 414,190 L420,234 L336,256 L322,205 Z"/>
  <path class="w" d="M232,178 Q250,160 300,168 Q322,185 318,215 Q305,245 270,245 Q232,235 225,205 Z"/>
  <path class="w" d="M215,250 L255,236 L268,262 L222,288 L200,272 Z"/>
 </g>
 <g class="m">
  <path d="M240,216 L296,194 M246,226 L300,204"/>
  <path d="M322,205 L414,190"/>
  <path d="M428,250 Q470,300 482,372"/>
 </g>
 <g class="n">
  <path d="M440,262 L462,252 M450,280 L474,268 M458,298 L484,286 M464,316 L492,306 M470,334 L498,326 M474,352 L502,346 M478,370 L506,366"/>
 </g>
</g>

<!-- hose clamp 2 + cone ring (8x view, origin 500,205) -->
<g class="k" transform="translate(500,205) scale(.125)">
 <g class="t">
  <ellipse cx="468" cy="200" rx="203" ry="115" transform="rotate(-3 468 200)"/>
  <ellipse cx="462" cy="245" rx="182" ry="95" transform="rotate(-3 462 245)"/>
  <path d="M265,215 L268,290 Q300,390 450,410 Q540,405 585,385"/>
  <path class="w" d="M650,205 L720,195 Q752,205 745,238 L715,322 L668,305 L625,285 Z"/>
  <path class="w" d="M640,312 Q670,300 695,325 Q705,360 690,385 Q660,395 635,375 Q625,340 640,312 Z"/>
  <path class="w" d="M575,362 L625,342 L640,380 L592,405 Z"/>
  <!-- cone ring -->
  <path d="M232,690 Q225,660 260,610 Q330,540 470,538 Q600,540 670,610 Q705,660 700,700 Q650,768 470,775 Q290,770 232,690 Z"/>
  <ellipse cx="470" cy="610" rx="165" ry="58"/>
  <path d="M340,645 Q400,610 480,612 Q560,615 610,632"/>
 </g>
 <g class="m">
  <path d="M690,215 L660,300"/>
  <path d="M650,345 L685,365 M645,358 L680,376"/>
 </g>
 <g class="n">
  <path d="M540,118 L548,146 M558,122 L566,152 M578,130 L584,158 M596,138 L602,166 M614,148 L618,176 M630,160 L634,186"/>
  <path d="M585,368 L598,398 M598,362 L611,392 M611,356 L624,386"/>
 </g>
</g>

<!-- sleeve (8x view, origin 500,280) -->
<g class="k" transform="translate(500,280) scale(.125)">
 <g class="t">
  <ellipse cx="475" cy="370" rx="152" ry="80"/>
  <path d="M323,370 L323,436 Q298,452 308,492 Q350,556 475,562 Q600,556 641,492 Q650,452 627,436 L627,370"/>
  <path d="M326,524 L328,580 Q360,636 475,641 Q590,636 625,580 L627,524"/>
 </g>
 <g class="m">
  <ellipse cx="475" cy="376" rx="138" ry="68"/>
  <path d="M318,470 Q360,540 475,546 Q590,540 632,470"/>
 </g>
 <path class="n" d="M340,390 Q380,440 475,446 Q570,440 610,390"/>
</g>

<!-- bracket (8x view, origin 685,92) -->
<g class="k" transform="translate(685,92) scale(.125)">
 <g class="t" style="stroke-width:2.3">
  <path d="M205,220 Q300,192 420,137 Q470,105 492,58 Q520,25 560,34 Q600,52 610,120 L790,205 L797,300 L826,298 L822,324 L790,350 L772,345 L768,238 L700,272 L690,300 L650,332 L630,316 Q600,270 540,270 Q490,285 485,340 L500,370 L500,400 L465,430 L440,415 L360,452 L350,600 Q340,632 305,626 L200,540 L165,475 L150,530 L100,546 Q60,530 50,490 Q55,455 125,440 Q150,320 205,220 Z"/>
 </g>
 <g class="m">
  <ellipse cx="545" cy="110" rx="28" ry="42"/>
  <ellipse cx="692" cy="222" rx="25" ry="14"/>
  <ellipse cx="380" cy="385" rx="28" ry="15"/>
  <path d="M75,478 Q100,462 130,470 L145,500 L105,522 Z"/>
  <path d="M218,238 Q178,330 160,440"/>
  <path d="M768,238 L790,210"/>
  <path d="M490,332 Q510,292 560,292 Q612,296 640,328"/>
  <path d="M440,415 L445,392 L485,372"/>
  <path d="M650,332 L655,306 L690,286"/>
 </g>
 <g class="n">
  <path d="M210,340 L598,134 M210,340 L208,232 M210,340 L342,446 M210,340 L206,520 Q230,572 310,612"/>
 </g>
</g>

<!-- clamp bracket + C ring (8x view, origin 745,135) -->
<g class="k" transform="translate(745,135) scale(.125)">
 <g class="t" style="stroke-width:2.3">
  <path d="M120,295 L250,232 Q262,150 335,108 Q405,85 472,108 L545,70 L632,92 L636,242 L602,252 L600,150 L548,180 L546,215 L500,240 L480,225 Q440,205 390,215 Q350,225 340,250 L335,310 L240,352 L236,470 L195,496 L115,466 Z"/>
  <path d="M640,240 Q692,280 686,340 Q662,430 560,466 Q470,482 410,432 L398,386 Q420,360 452,346 Q485,372 540,366 Q600,350 612,300 Q602,262 622,246"/>
 </g>
 <g class="m">
  <path d="M120,295 L200,330 L335,262 M200,330 L195,495"/>
  <path d="M320,218 Q330,160 400,140 Q452,135 482,160 L482,225 M482,160 L560,120 L632,92 M560,120 L548,180"/>
  <ellipse cx="230" cy="275" rx="28" ry="14"/><ellipse cx="542" cy="105" rx="25" ry="13"/><ellipse cx="285" cy="325" rx="22" ry="10"/>
  <path d="M400,390 Q470,440 560,425 Q650,400 686,340"/>
  <path d="M612,300 Q640,320 626,352"/>
 </g>
</g>

<!-- lever bracket, circlip, spring, e-clip (8x view, origin 170,275) -->
<g class="k" transform="translate(170,275) scale(.125)">
 <g class="t" style="stroke-width:2.2">
  <path d="M75,215 Q70,185 100,180 L130,185 Q160,150 210,152 Q232,160 250,180 L370,290 Q400,330 410,380 L492,690 L520,740 L700,990 L720,1030 L740,1120 L800,1240 L895,1425"/>
  <path d="M75,215 Q80,240 100,260 L230,375 L325,720 L365,860 L600,1105 L660,1240 L760,1440 Q780,1470 810,1470 L870,1465 Q902,1455 900,1428"/>
  <path d="M130,185 L300,340 M150,178 L306,324"/>
  <path d="M500,735 L520,720 L700,870 Q730,910 720,950 L716,1010"/>
 </g>
 <g class="m">
  <path d="M355,292 Q385,330 396,385 L480,700 L505,745"/>
  <path d="M512,790 L530,760 L690,905 L702,980"/>
  <path d="M700,990 L745,1050 L760,1130 L830,1260 L900,1420"/>
  <path d="M560,830 Q600,850 620,890 M650,930 L700,910"/>
  <ellipse cx="562" cy="963" rx="22" ry="28" transform="rotate(-35 562 963)"/>
  <ellipse cx="562" cy="963" rx="10" ry="14" transform="rotate(-35 562 963)"/>
  <path class="b" d="M770,1400 L820,1392 Q835,1400 830,1418 L785,1428 Q768,1420 770,1400 Z"/>
  <ellipse cx="497" cy="162" rx="78" ry="92" transform="rotate(-12 497 162)"/>
  <path d="M455,110 L450,205 M535,120 L530,215 M452,160 L480,142 L508,166 L532,150 M452,188 L485,172 L505,192 L530,180"/>
  <path d="M775,952 Q760,900 800,870 Q850,850 885,910 Q905,970 865,1010 L840,1005 Q830,980 855,955 L830,935 Q845,910 825,895 Q800,895 800,935 L790,955 Z"/>
  <path d="M178,1188 Q150,1215 165,1238 Q150,1250 138,1232 M398,1042 Q408,1010 426,1018 Q432,1040 412,1046"/>
 </g>
 <g class="n">
  <path d="M235,378 L355,338 M380,850 L495,810 M625,1105 L700,1045"/>
 </g>
 <path d="M188,1190 L400,1050" style="stroke-width:6.4;stroke-linecap:round"/>
 <path d="M200,1175 L395,1046 M205,1196 L405,1064" style="stroke:#fff;stroke-width:.5"/>
</g>

<!-- bolt, spacer, link, small e-clip (8x view, origin 270,275) -->
<g class="k" transform="translate(270,275) scale(.125)">
 <g class="t">
  <path d="M270,115 L300,80 L385,72 L420,105 L418,150 L385,180 L310,180 L270,150 Z"/>
  <path d="M305,180 L305,340 Q320,362 350,362 Q385,358 395,340 L395,180"/>
  <ellipse cx="352" cy="445" rx="82" ry="45"/>
  <path d="M270,445 L270,540 Q285,548 285,560 Q285,572 270,580 L272,650 Q300,690 352,690 Q410,688 432,650 L434,580 Q418,572 418,560 Q418,548 434,540 L434,445"/>
 </g>
 <g class="m">
  <path d="M270,115 L312,140 L385,135 L420,105 M312,140 L310,180 M385,135 L385,180"/>
  <ellipse cx="352" cy="445" rx="50" ry="22"/>
 </g>
 <path class="h" style="stroke:#555" d="M308,205 L392,209 M308,218 L392,222 M308,231 L392,235 M308,244 L392,248 M308,257 L392,261 M308,270 L392,274 M308,283 L392,287 M308,296 L392,300 M308,309 L392,313 M308,322 L392,326 M308,335 L392,339 M308,348 L392,352"/>
 <g style="stroke-width:2.6">
  <path d="M215,1070 Q225,1025 290,1010 Q370,1005 440,960 Q480,920 540,910 L680,882 Q730,890 735,925 Q735,960 700,980 L640,1005 Q600,1020 580,1060 Q540,1085 490,1090 L380,1110 Q360,1140 350,1170 Q320,1205 270,1205 Q220,1190 210,1140 Z"/>
 </g>
 <g class="m">
  <ellipse cx="655" cy="965" rx="28" ry="20" transform="rotate(-20 655 965)"/>
  <path d="M235,1070 Q250,1035 300,1030 Q350,1035 345,1080 Q320,1110 260,1110 Q225,1105 235,1070 Z"/>
  <path d="M350,1080 Q420,1060 440,1000 Q470,950 540,935 L630,918"/>
  <path d="M370,1095 L560,1040 Q600,1000 640,990"/>
  <path d="M215,1110 Q260,1150 350,1120"/>
  <path class="b" d="M290,1060 L350,1055 L340,1080 L290,1085Z M460,1040 L545,1035 L540,1060 L470,1065 Z"/>
  <ellipse class="b" cx="490" cy="985" rx="20" ry="16"/><ellipse class="b" cx="265" cy="1160" rx="18" ry="10" transform="rotate(30 265 1160)"/><ellipse class="b" cx="325" cy="1155" rx="10" ry="18" transform="rotate(30 325 1155)"/>
  <path d="M690,775 Q685,735 720,720 Q760,710 790,750 Q805,790 780,830 L755,825 Q745,800 765,785 L745,765 Q755,745 735,740 Q715,745 715,770 L705,785 Z"/>
 </g>
</g>

<!-- small cap + pin (8x view, origin 125,390) -->
<g class="k" transform="translate(125,390) scale(.125)">
 <g class="t" style="stroke-width:2.3">
  <ellipse cx="148" cy="105" rx="73" ry="42" transform="rotate(12 148 105)"/>
  <path d="M76,100 L62,180 Q90,226 160,229 Q200,226 208,196 L221,122"/>
  <ellipse cx="705" cy="635" rx="55" ry="72" transform="rotate(-15 705 635)"/>
  <path d="M742,582 L940,478 Q980,478 978,515 Q975,540 962,543 L772,640"/>
 </g>
 <g class="m">
  <path d="M715,566 Q762,585 770,640 Q770,690 738,702"/>
  <path d="M870,515 Q885,540 900,562 M888,506 Q903,530 914,553"/>
 </g>
</g>

<!-- right side: lower clamp half, nut, seal ring (8x view, origin 690,480) -->
<g class="k" transform="translate(690,480) scale(.125)">
 <g class="t" style="stroke-width:2.3">
  <path d="M180,410 Q200,350 250,320 L320,345 Q400,300 430,190 Q440,160 470,150 L580,155 Q605,165 600,200 L580,270 Q560,290 540,295 Q520,400 440,450 Q380,480 300,470 Q270,500 230,510 Q190,505 180,470 Z"/>
  <path d="M435,640 L470,605 L550,600 L590,630 L588,690 L550,720 L470,722 L435,690 Z"/>
  <ellipse cx="790" cy="270" rx="120" ry="165" transform="rotate(10 790 270)"/>
  <ellipse cx="812" cy="280" rx="60" ry="110" transform="rotate(10 812 280)"/>
 </g>
 <g class="m">
  <path d="M345,380 Q420,320 450,200 M365,400 Q445,330 475,200 M385,415 Q470,345 500,205"/>
  <path d="M470,150 Q450,170 460,190 L510,200 Q530,185 585,185 M497,160 L502,200"/>
  <path d="M215,400 Q230,350 255,340 Q275,345 270,380 L250,420 M270,380 Q300,360 320,348 M232,400 Q240,365 255,358"/>
  <path d="M435,640 L475,672 L555,668 L590,630 M475,672 L470,722 M555,668 L550,720"/>
  <ellipse cx="512" cy="640" rx="40" ry="20"/><ellipse cx="512" cy="642" rx="25" ry="12"/>
  <ellipse cx="800" cy="275" rx="96" ry="142" transform="rotate(10 800 275)"/>
  <ellipse cx="805" cy="277" rx="80" ry="126" transform="rotate(10 805 277)"/>
 </g>
</g>
<!-- ring + tube (target coords) -->
<g class="k">
 <g class="t">
  <ellipse cx="825.2" cy="520.1" rx="12.7" ry="21.2" transform="rotate(8 825.2 520.1)"/>
  <path d="M994.9,570.2 L846.8,540.1 Q842.3,536.8 841.7,527.9 Q842.3,514.5 851.2,511.6 L999.3,541.7"/>
  <ellipse cx="998.2" cy="556.2" rx="8.5" ry="14.6" transform="rotate(10 998.2 556.2)"/>
 </g>
 <g class="m">
  <ellipse cx="826.2" cy="520.1" rx="7.1" ry="16" transform="rotate(8 826.2 520.1)"/>
  <ellipse cx="998.6" cy="556.4" rx="5.4" ry="10.6" transform="rotate(10 998.6 556.4)"/>
 </g>
</g>
<!-- saddle clamp + bolt (8x view, origin 670,420) -->
<g class="k" transform="translate(670,420) scale(.125)">
 <g style="stroke-width:3.1">
  <path d="M300,555 Q290,600 320,640 Q360,670 420,650 Q480,640 510,580 Q520,500 560,450 Q590,415 640,420 L680,455 Q700,470 720,455 L735,400 L735,330 Q720,290 680,285 Q640,290 600,320 Q520,300 450,340 Q380,400 360,500 Q310,520 300,555 Z"/>
 </g>
 <g class="m">
  <path d="M610,335 Q620,310 680,305 Q720,310 715,345 L690,370 L640,365 Z"/>
  <ellipse cx="665" cy="330" rx="25" ry="14"/>
  <path d="M325,540 Q330,515 375,510 L425,530 Q420,570 380,585 Q330,580 325,540 Z"/>
  <ellipse cx="370" cy="548" rx="25" ry="14"/>
  <path d="M425,530 Q440,430 520,380 Q570,350 620,355 M440,560 Q470,450 540,410 Q580,390 625,398 M380,585 Q350,600 345,630"/>
  <path d="M45,500 Q40,580 100,615 L260,660 M130,470 L290,420"/>
  <path d="M345,430 Q270,470 255,560 Q250,640 290,670 Q340,690 390,680"/>
  <path d="M325,425 Q255,470 240,560 Q240,640 270,668"/>
  <path d="M500,500 Q540,560 500,640 Q460,700 400,700 Q380,690 375,670"/>
  <path d="M-70,365 L0,320 L130,230 Q200,260 210,350 M-70,365 L-35,410 L0,430"/>
  <path d="M60,340 Q80,300 130,320 L290,420 Q280,460 220,465 Q100,440 60,340 Z M100,350 L215,440 M0,430 Q40,450 90,440"/>
 </g>
 <g class="t">
  <path d="M660,-60 L660,165 Q690,185 720,165 L720,-60"/>
  <path d="M632,-112 L656,-136 L728,-139 L752,-116 L750,-86 L725,-62 L656,-60 L632,-86 Z"/>
 </g>
 <path class="m" d="M632,-112 L660,-94 L726,-97 L752,-116 M660,-94 L657,-60 M726,-97 L725,-62"/>
 <path class="h" style="stroke:#555" d="M662,45 L718,48 M662,56 L718,59 M662,67 L718,70 M662,78 L718,81 M662,89 L718,92 M662,100 L718,103 M662,111 L718,114 M662,122 L718,125 M662,133 L718,136 M662,144 L718,147 M662,155 L718,158 M662,166 L718,169"/>
</g>

<!-- band clamp (8x view, origin 420,465) -->
<g class="k" transform="translate(420,465) scale(.125)">
 <g class="t" style="stroke-width:2.2">
  <ellipse cx="560" cy="372" rx="211" ry="148" transform="rotate(49.6 560 372)"/>
  <path d="M288,335 C270,470 380,600 480,640 C560,672 650,640 696,552"/>
  <path class="w" d="M215,275 Q210,262 225,250 L380,118 L420,110 Q440,92 470,100 Q492,115 476,140 L460,150 L472,182 L385,262 L300,346 L285,340 Z"/>
  <path d="M530,290 Q640,360 662,440 L656,530"/>
 </g>
 <g class="m">
  <ellipse cx="560" cy="372" rx="194" ry="131" transform="rotate(49.6 560 372)"/>
  <path d="M545,305 Q620,380 640,452 L640,520"/>
  <path d="M430,295 L490,312 L560,240 L545,225 M430,295 L432,370 L415,372 L412,345"/>
  <path d="M240,278 L330,198 L372,262 L296,330 Z"/>
  <circle cx="292" cy="290" r="24"/><path d="M278,305 L308,274 M286,310 L314,282"/>
  <path d="M330,212 Q320,180 345,165 Q365,160 375,185 L396,232 M352,205 Q348,188 358,184 Q368,186 372,200 L384,228"/>
  <path d="M380,172 Q375,140 400,130 Q420,128 428,150 L442,192 M402,165 Q400,150 410,147 Q418,150 420,160 L430,186"/>
 </g>
</g>

<!-- caption -->
<text x="1018" y="757" text-anchor="end" font-size="14.2" fill="#fdfdfd">Gasket, exhaust pipe to heat exchanger, year 8/62-7/74</text>

</svg>
</body></html>
